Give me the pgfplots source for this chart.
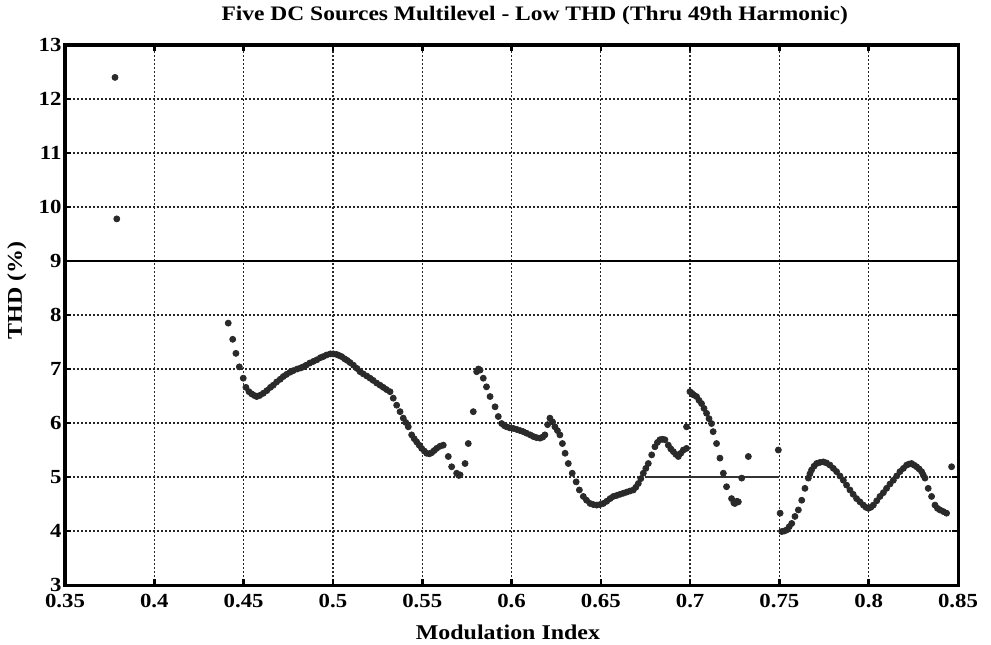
\documentclass[border=0pt]{standalone}
\usepackage{fontspec}
\setmainfont{Liberation Serif}[FakeStretch=1.14]
\usepackage{pgfplots}
\pgfplotsset{compat=1.18}
\definecolor{dotc}{HTML}{2A2A2A}
\begin{document}
\begin{tikzpicture}
\begin{axis}[
  scale only axis,
  width=446.5pt, height=270pt,
  xmin=0.35, xmax=0.85, ymin=3, ymax=13,
  xtick={0.35,0.4,0.45,0.5,0.55,0.6,0.65,0.7,0.75,0.8,0.85},
  xticklabels={0.35,0.4,0.45,0.5,0.55,0.6,0.65,0.7,0.75,0.8,0.85},
  ytick={3,4,5,6,7,8,9,10,11,12,13},
  yticklabels={3,4,5,6,7,8,9,10,11,12,13},
  grid=major,
  major grid style={black!85, line width=0.65pt, dash pattern=on 0.9pt off 1.1pt},
  axis line style={line width=1.5pt, black},
  tick align=inside,
  major tick length=3pt,
  tick style={line width=1.3pt, black},
  ticklabel style={font=\bfseries\fontsize{10}{12}\selectfont},
  xticklabel style={yshift=-1pt},
  yticklabel style={xshift=1.8pt},
  title={Five DC Sources Multilevel - Low THD (Thru 49th Harmonic)},
  title style={font=\bfseries\fontsize{10.3}{12}\selectfont, at={(axis description cs:0.526,1)}, anchor=center, yshift=8.5pt},
  xlabel={Modulation Index},
  ylabel={THD (\%)},
  xlabel style={font=\bfseries\fontsize{10.5}{12}\selectfont, at={(axis description cs:0.496,0)}, anchor=center, yshift=-23.5pt},
  ylabel style={font=\bfseries\fontsize{10.5}{12}\selectfont, at={(axis description cs:-0.054,0.546)}, anchor=center, rotate=0},
  clip=false,
]
\addplot[black, line width=0.8pt, forget plot] coordinates {(0.35,9) (0.85,9)};
\addplot[black!80, line width=0.8pt, forget plot] coordinates {(0.675,5) (0.75,5)};
\addplot[only marks, mark=*, mark size=1.5pt, mark options={draw=dotc, fill=dotc}] coordinates {
(0.378,12.4) (0.379,9.78)
(0.4414,7.85) (0.4439,7.55) (0.4457,7.29) (0.4476,7.04) (0.4498,6.83) (0.4513,6.66)
(0.4530,6.58) (0.4545,6.54) (0.4560,6.51) (0.4573,6.49) (0.4590,6.51) (0.4610,6.55)
(0.4630,6.60) (0.4650,6.66) (0.4666,6.70) (0.4685,6.76) (0.4705,6.81) (0.4722,6.86)
(0.4740,6.90) (0.4760,6.94) (0.4778,6.97) (0.4800,7.00) (0.4820,7.02) (0.4834,7.04)
(0.4850,7.07) (0.4870,7.11) (0.4890,7.14) (0.4910,7.17) (0.4930,7.21) (0.4946,7.23)
(0.4965,7.26) (0.4985,7.28) (0.5002,7.28) (0.5020,7.27) (0.5035,7.25) (0.5049,7.23)
(0.5065,7.19) (0.5080,7.16) (0.5096,7.12) (0.5115,7.07) (0.5135,7.01) (0.5152,6.95)
(0.5170,6.91) (0.5190,6.87) (0.5208,6.83) (0.5225,6.79) (0.5245,6.74) (0.5264,6.70)
(0.5282,6.66) (0.5300,6.62) (0.5320,6.58) (0.5338,6.46) (0.5357,6.33) (0.5376,6.21)
(0.5394,6.09) (0.5408,6.01) (0.5422,5.93) (0.5441,5.78) (0.5455,5.71) (0.5469,5.65)
(0.5483,5.59) (0.5497,5.53) (0.5512,5.48) (0.5525,5.44) (0.5540,5.43) (0.5553,5.45)
(0.5567,5.49) (0.5581,5.53) (0.5600,5.57) (0.5618,5.59)
(0.5646,5.38) (0.5665,5.19) (0.5693,5.07) (0.5705,5.03) (0.5712,5.04) (0.5740,5.25)
(0.5758,5.62) (0.5786,6.21) (0.5805,6.95) (0.5815,7.00) (0.5824,6.98) (0.5842,6.83)
(0.5860,6.67) (0.5880,6.49) (0.5908,6.30) (0.5926,6.12) (0.5945,5.99) (0.5960,5.95)
(0.5973,5.93) (0.5990,5.91) (0.6010,5.90) (0.6030,5.88) (0.6048,5.86) (0.6066,5.84)
(0.6085,5.81) (0.6105,5.78) (0.6122,5.75) (0.6140,5.73) (0.6160,5.72) (0.6175,5.74)
(0.6187,5.78) (0.6202,5.97) (0.6215,6.09) (0.6230,6.02) (0.6243,5.93) (0.6257,5.86)
(0.6271,5.78) (0.6285,5.62) (0.6300,5.44) (0.6318,5.25) (0.6340,5.07) (0.6362,4.91)
(0.6380,4.76) (0.6402,4.64) (0.6420,4.57) (0.6440,4.51) (0.6458,4.49) (0.6477,4.48)
(0.6495,4.49) (0.6514,4.51) (0.6533,4.55) (0.6552,4.60) (0.6570,4.64) (0.6590,4.66)
(0.6608,4.68) (0.6626,4.70) (0.6645,4.72) (0.6663,4.74) (0.6682,4.76) (0.6696,4.81)
(0.6710,4.88) (0.6724,4.97) (0.6738,5.07) (0.6752,5.16) (0.6766,5.25) (0.6785,5.41)
(0.6803,5.56) (0.6817,5.64) (0.6831,5.69) (0.6845,5.70) (0.6859,5.69) (0.6878,5.59)
(0.6892,5.52) (0.6906,5.47) (0.6920,5.42) (0.6934,5.38) (0.6948,5.44) (0.6962,5.50)
(0.6980,5.53) (0.6980,5.93)
(0.6999,6.58) (0.7010,6.55) (0.7020,6.52) (0.7036,6.49) (0.7050,6.42) (0.7064,6.36)
(0.7078,6.27) (0.7092,6.18) (0.7106,6.08) (0.7120,5.99) (0.7129,5.84) (0.7148,5.62)
(0.7167,5.35) (0.7186,5.07) (0.7204,4.82) (0.7232,4.60) (0.7245,4.52) (0.7251,4.51)
(0.7262,4.55) (0.7270,4.54) (0.7289,4.98) (0.7326,5.38) (0.7494,5.50)
(0.7504,4.33) (0.7513,3.99) (0.7527,4.00) (0.7541,4.02) (0.7555,4.08) (0.7569,4.14)
(0.7587,4.27) (0.7606,4.39) (0.7625,4.57) (0.7643,4.79) (0.7662,4.98) (0.7671,5.06)
(0.7680,5.13) (0.7694,5.20) (0.7708,5.25) (0.7727,5.27) (0.7746,5.28) (0.7764,5.26)
(0.7783,5.22) (0.7802,5.16) (0.7820,5.10) (0.7839,5.02) (0.7858,4.94) (0.7876,4.85)
(0.7895,4.76) (0.7913,4.68) (0.7932,4.60) (0.7951,4.54) (0.7970,4.48) (0.7984,4.44)
(0.7998,4.42) (0.8012,4.44) (0.8026,4.48) (0.8045,4.56) (0.8063,4.64) (0.8082,4.71)
(0.8100,4.79) (0.8119,4.87) (0.8138,4.94) (0.8157,5.02) (0.8175,5.10) (0.8194,5.16)
(0.8212,5.22) (0.8226,5.24) (0.8240,5.25) (0.8254,5.22) (0.8268,5.19) (0.8282,5.15)
(0.8296,5.10) (0.8305,5.04) (0.8315,4.98) (0.8333,4.79) (0.8352,4.64) (0.8371,4.48)
(0.8385,4.42) (0.8399,4.39) (0.8418,4.36) (0.8436,4.33) (0.8464,5.19)
};
\end{axis}
\pgfresetboundingbox
\path ([xshift=-32.5pt,yshift=-29.5pt]current axis.south west) ([xshift=16.5pt,yshift=22.5pt]current axis.north east);
\end{tikzpicture}
\end{document}
